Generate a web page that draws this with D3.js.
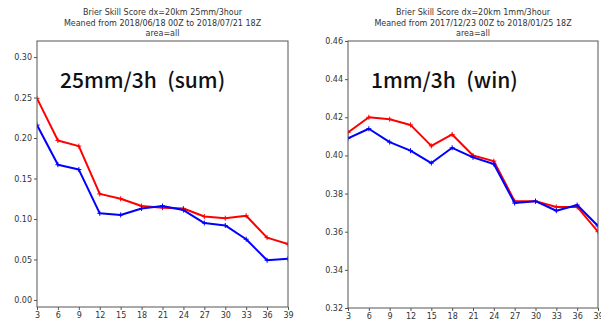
<!DOCTYPE html>
<html><head><meta charset="utf-8">
<script src="https://cdn.jsdelivr.net/npm/d3@7"></script>
<style>body{margin:0;background:#fff}svg{display:block}</style>
</head><body><svg id="c" width="601" height="322"></svg>
<script>
const hours = [3,6,9,12,15,18,21,24,27,30,33,36,39];
const sumRed  = [0.249,0.197,0.190,0.131,0.125,0.116,0.114,0.113,0.103,0.101,0.104,0.077,0.069];
const sumBlue = [0.216,0.167,0.161,0.107,0.105,0.113,0.116,0.111,0.095,0.092,0.075,0.049,0.051];
const winRed  = [0.412,0.420,0.419,0.416,0.405,0.411,0.400,0.397,0.376,0.376,0.373,0.373,0.360];
const winBlue = [0.409,0.414,0.407,0.4025,0.396,0.404,0.399,0.3955,0.375,0.376,0.371,0.374,0.363];
const sumTicks = [0.00,0.05,0.10,0.15,0.20,0.25,0.30];
const winTicks = [0.32,0.34,0.36,0.38,0.40,0.42,0.44,0.46];
const panels = [
  {title:["Brier Skill Score dx=20km 25mm/3hour","Meaned from 2018/06/18 00Z to 2018/07/21 18Z","area=all"],
   label:"25mm/3h\u2002(sum)", red:sumRed, blue:sumBlue, yDomain:[-0.0087,0.3198], yTicks:sumTicks,
   x0:37, x1:288, y0:41, y1:307},
  {title:["Brier Skill Score dx=20km 1mm/3hour","Meaned from 2017/12/23 00Z to 2018/01/25 18Z","area=all"],
   label:"1mm/3h\u2002(win)", red:winRed, blue:winBlue, yDomain:[0.32,0.46], yTicks:winTicks,
   x0:348, x1:598, y0:41, y1:308}
];
const svg = d3.select("#c");
panels.forEach(p => {
  const x = d3.scaleLinear().domain([3,39]).range([p.x0,p.x1]);
  const y = d3.scaleLinear().domain(p.yDomain).range([p.y1,p.y0]);
  const g = svg.append("g");
  p.title.forEach((t,i) => g.append("text").attr("x",(p.x0+p.x1)/2).attr("y",15+i*10.5)
    .attr("text-anchor","middle").attr("font-family","DejaVu Sans").attr("font-size",8).attr("fill","#333").text(t));
  const xa = d3.axisBottom(x).tickValues(hours).tickSize(3).tickPadding(2).tickFormat(d3.format("d"));
  const ya = d3.axisLeft(y).tickValues(p.yTicks).tickSize(3).tickPadding(2).tickFormat(d3.format(".2f"));
  const gx = g.append("g").attr("transform",`translate(0,${p.y1})`).call(xa);
  const gy = g.append("g").attr("transform",`translate(${p.x0},0)`).call(ya);
  [gx,gy].forEach(a => {
    a.select(".domain").remove();
    a.selectAll("line").attr("stroke","#555");
    a.selectAll("text").attr("font-family","DejaVu Sans").attr("font-size",8).attr("fill","#333");
  });
  const line = d3.line().x((d,i)=>x(hours[i])).y(d=>y(d));
  g.append("defs").append("clipPath").attr("id","cp"+p.x0).append("rect")
    .attr("x",p.x0).attr("y",p.y0).attr("width",p.x1-p.x0).attr("height",p.y1-p.y0);
  const plot = g.append("g").attr("clip-path",`url(#cp${p.x0})`);
  [["red",p.red],["blue",p.blue]].forEach(([c,vals]) => {
    plot.append("path").datum(vals).attr("d",line).attr("fill","none").attr("stroke",c).attr("stroke-width",2).attr("stroke-linejoin","round");
    plot.selectAll(null).data(vals).enter().append("path")
      .attr("d",(d,i)=>{const cx=x(hours[i]),cy=y(d);return `M${cx-2.5},${cy}H${cx+2.5}M${cx},${cy-2.5}V${cy+2.5}`;})
      .attr("stroke",c).attr("stroke-width",1);
  });
  g.append("rect").attr("x",p.x0).attr("y",p.y0).attr("width",p.x1-p.x0).attr("height",p.y1-p.y0)
    .attr("fill","none").attr("stroke","#555").attr("stroke-width",1);
  g.append("text").attr("x",p.x0+23).attr("y",88).attr("font-family","Noto Sans CJK JP").attr("font-size",21)
    .attr("font-weight",500).attr("fill","#111").text(p.label);
});
</script></body></html>
